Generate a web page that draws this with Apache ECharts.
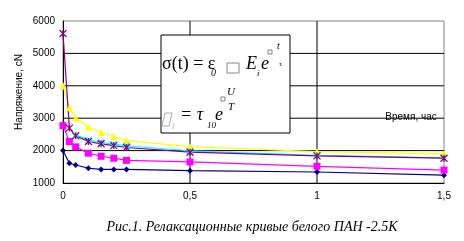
<!DOCTYPE html>
<html>
<head>
<meta charset="utf-8">
<script src="https://cdn.jsdelivr.net/npm/echarts@6/dist/echarts.min.js"></script>
<style>
  html,body{margin:0}
  #chart { width: 464px; height: 241px; }
</style>
</head>
<body>
<div id="chart"></div>
<script>
    // время, час
    const hours = [0, 0.025, 0.05, 0.1, 0.15, 0.2, 0.25, 0.5, 1, 1.5];
    // напряжение, сN (null = нет точки)
    const navyVals = [2000, 1610, 1555, 1455, 1420, 1420, 1420, 1380, 1340, 1240];
    const magentaVals = [2770, 2280, 2115, 1920, 1825, 1765, 1700, 1650, 1515, 1400];
    const yellowVals = [4010, 3320, 3005, 2725, 2560, 2435, 2310, 2125, 1970, 1900];
    const cyanVals = [null, null, 2490, 2330, 2250, 2200, 2150, 1990, 1850, 1775];
    const purpleVals = [5615, 2695, 2455, 2280, 2210, 2155, 2095, 1950, 1835, 1765];

    // линии сетки
    const yGridVals = [2000, 3000, 4000, 5000];
    const xGridVals = [0.5, 1];

    const xTicks = ['0', '0,5', '1', '1,5'];
    const yAxisName = 'Напряжение, сN';
    const xAxisName = 'Время, час';
    const caption = 'Рис.1. Релаксационные кривые белого ПАН -2.5K';

    const X_MIN = 0, X_MAX = 1.5, Y_MIN = 1000, Y_MAX = 6000;

    function pairs(vals) {
        let out = [];
        vals.forEach(function (v, i) {
            if (v != null) out.push([hours[i], v]);
        });
        return out;
    }

    function mkSeries(vals, color, symbol, size, hollow) {
        return {
            type: 'line',
            data: pairs(vals),
            symbol: symbol,
            symbolSize: size,
            showSymbol: true,
            z: 3,
            lineStyle: { color: color, width: 1.2 },
            itemStyle: hollow
                ? { color: 'none', borderColor: color, borderWidth: 1.2 }
                : { color: color, borderWidth: 0 },
            emphasis: { disabled: true },
            animation: false
        };
    }

    // сетка рисуется отдельными сериями (splitLine не отображается)
    function gridSeries(points) {
        return {
            type: 'line',
            data: points,
            symbol: 'none',
            silent: true,
            z: 1,
            lineStyle: { color: '#000', width: 1 },
            emphasis: { disabled: true },
            animation: false
        };
    }

    let gridLines = [];
    yGridVals.forEach(function (v) { gridLines.push(gridSeries([[X_MIN, v], [X_MAX, v]])); });
    xGridVals.forEach(function (v) { gridLines.push(gridSeries([[v, Y_MIN], [v, Y_MAX]])); });

    const serif = '"Liberation Serif", "Times New Roman", serif';
    const sans = '"Liberation Sans", Arial, sans-serif';

    let chart = echarts.init(document.getElementById('chart'));
    let option = {
        animation: false,
        backgroundColor: '#fff',
        grid: { left: 63, right: 20, top: 21, bottom: 58, show: true, borderColor: '#808080', borderWidth: 1 },
        xAxis: {
            type: 'value',
            min: X_MIN, max: X_MAX, interval: 0.5,
            axisLine: { show: true, onZero: false, lineStyle: { color: '#000', width: 1 } },
            axisTick: { show: false },
            axisLabel: {
                margin: 8,
                color: '#000',
                fontFamily: sans,
                fontSize: 10,
                formatter: function (v) { return xTicks[Math.round(v / 0.5)]; }
            },
            splitLine: { show: false }
        },
        yAxis: {
            type: 'value',
            min: Y_MIN, max: Y_MAX, interval: 1000,
            axisLine: { show: true, lineStyle: { color: '#000', width: 1 } },
            axisTick: { show: false },
            axisLabel: {
                margin: 8, color: '#000', fontFamily: sans, fontSize: 10,
                formatter: function (v) { return String(v); }
            },
            splitLine: { show: false }
        },
        series: gridLines.concat([
            mkSeries(navyVals, '#000080', 'diamond', 6, false),
            mkSeries(magentaVals, '#FF00FF', 'rect', 7, false),
            mkSeries(yellowVals, '#FFFF00', 'triangle', 7, false),
            mkSeries(cyanVals, '#00FFFF', 'path://M0,0L10,10M10,0L0,10', 6, true),
            mkSeries(purpleVals, '#800080', 'path://M0,0L10,10M10,0L0,10M5,0L5,10', 7, true)
        ]),
        graphic: [
            { type: 'text', x: 19, y: 92, rotation: Math.PI / 2, z: 100,
              style: { text: yAxisName, font: '10px ' + sans, fill: '#000', align: 'center', verticalAlign: 'middle' } },
            { type: 'text', x: 411, y: 117, z: 100,
              style: { text: xAxisName, font: '10px ' + sans, fill: '#000', align: 'center', verticalAlign: 'middle' } },
            { type: 'text', x: 252, y: 227, z: 100,
              style: { text: caption, font: 'italic 14px ' + serif, fill: '#000', align: 'center', verticalAlign: 'middle' } },
            // формула в рамке
            { type: 'rect', z: 100, shape: { x: 161, y: 35, width: 129, height: 98 },
              style: { fill: '#fff', stroke: '#000', lineWidth: 1 } },
            { type: 'text', x: 162, y: 73, z: 101,
              style: { text: 'σ(t) = ε', font: '18px ' + serif, fill: '#000', verticalAlign: 'bottom' } },
            { type: 'text', x: 211, y: 78, z: 101,
              style: { text: '0', font: 'italic 10px ' + serif, fill: '#000', verticalAlign: 'bottom' } },
            { type: 'rect', z: 101, shape: { x: 227, y: 63, width: 12, height: 10 },
              style: { fill: 'none', stroke: '#888', lineWidth: 1 } },
            { type: 'text', x: 246, y: 73, z: 101,
              style: { text: 'E', font: 'italic 18px ' + serif, fill: '#000', verticalAlign: 'bottom' } },
            { type: 'text', x: 257, y: 78, z: 101,
              style: { text: 'i', font: 'italic 9px ' + serif, fill: '#000', verticalAlign: 'bottom' } },
            { type: 'text', x: 261, y: 73, z: 101,
              style: { text: 'e', font: 'italic 18px ' + serif, fill: '#000', verticalAlign: 'bottom' } },
            { type: 'rect', z: 101, shape: { x: 268, y: 50, width: 4, height: 4 },
              style: { fill: 'none', stroke: '#666', lineWidth: 0.8 } },
            { type: 'text', x: 277, y: 51, z: 101,
              style: { text: 't', font: 'italic 10px ' + serif, fill: '#000', verticalAlign: 'bottom' } },
            { type: 'text', x: 279, y: 64, z: 101,
              style: { text: 'τᵢ', font: 'italic 7px ' + serif, fill: '#000', verticalAlign: 'middle' } },
            { type: 'polygon', z: 101, shape: { points: [[165, 113], [172, 113], [169, 126], [162, 126]] },
              style: { fill: 'none', stroke: '#aaa', lineWidth: 1 } },
            { type: 'text', x: 172, y: 131, z: 101,
              style: { text: 'i', font: 'italic 8px ' + serif, fill: '#aaa', verticalAlign: 'bottom' } },
            { type: 'text', x: 180, y: 124, z: 101,
              style: { text: '= τ', font: 'italic 18px ' + serif, fill: '#000', verticalAlign: 'bottom' } },
            { type: 'text', x: 207, y: 130, z: 101,
              style: { text: '10', font: 'italic 9px ' + serif, fill: '#000', verticalAlign: 'bottom' } },
            { type: 'text', x: 215, y: 124, z: 101,
              style: { text: 'e', font: 'italic 18px ' + serif, fill: '#000', verticalAlign: 'bottom' } },
            { type: 'rect', z: 101, shape: { x: 221, y: 97, width: 4, height: 4 },
              style: { fill: 'none', stroke: '#666', lineWidth: 0.8 } },
            { type: 'text', x: 227, y: 98, z: 101,
              style: { text: 'U', font: 'italic 11px ' + serif, fill: '#000', verticalAlign: 'bottom' } },
            { type: 'text', x: 228, y: 113, z: 101,
              style: { text: 'T', font: 'italic 11px ' + serif, fill: '#000', verticalAlign: 'bottom' } }
        ]
    };
    chart.setOption(option);
    window.addEventListener('resize', function () {
        chart.resize();
    });
</script>
</body>
</html>
